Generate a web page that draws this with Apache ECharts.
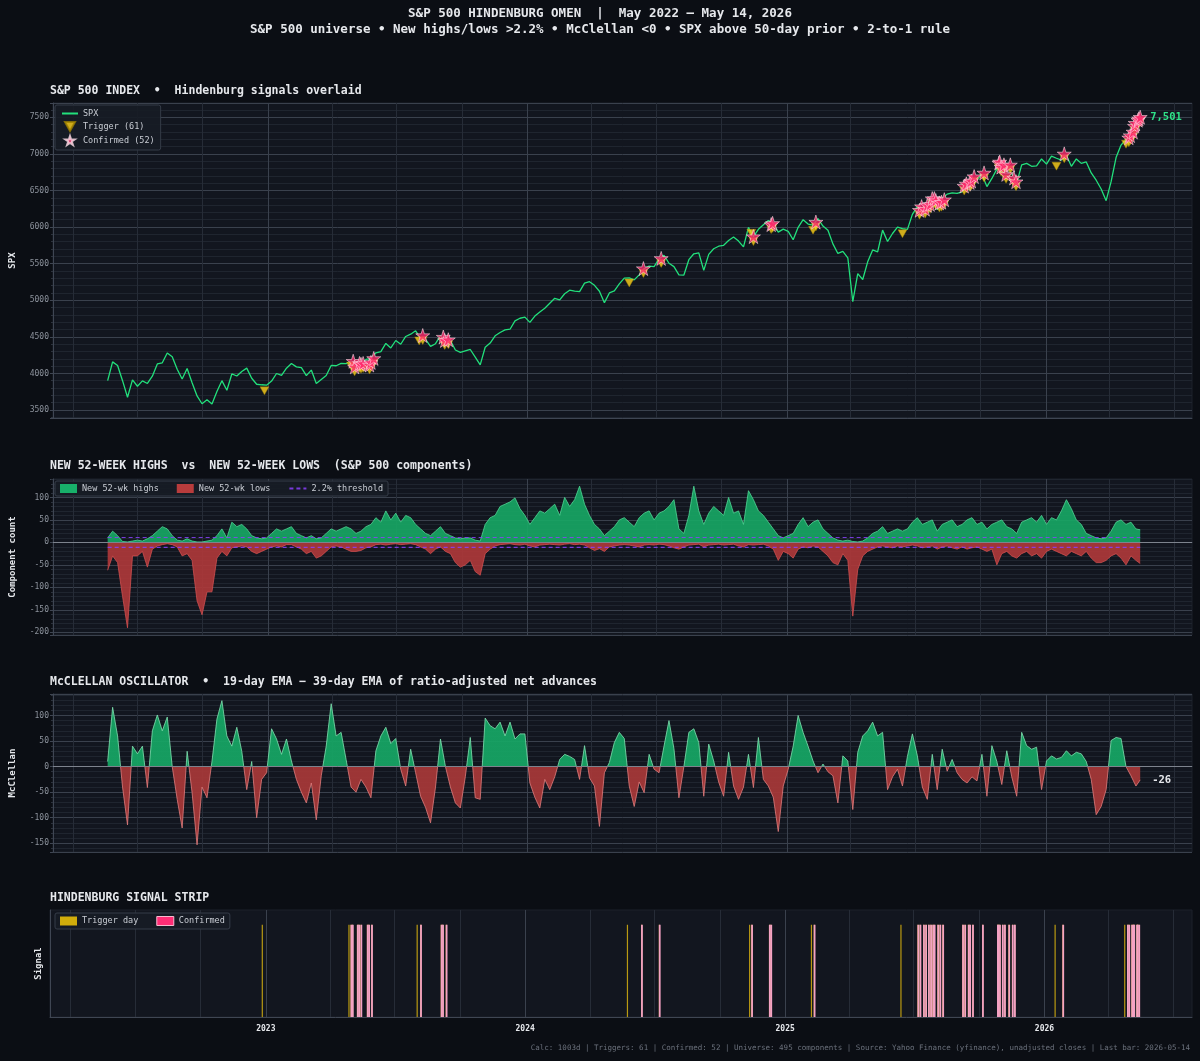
<!DOCTYPE html>
<html>
<head>
<meta charset="utf-8">
<title>S&P 500 Hindenburg Omen</title>
<script src="https://cdn.jsdelivr.net/npm/echarts@6/dist/echarts.min.js"></script>
<style>
  html, body { margin: 0; padding: 0; background: #0b0e14; }
  #chart { width: 1200px; height: 1061px; }
</style>
</head>
<body>
<div id="chart"></div>
<script>
// weekly samples (Fridays) from 2022-05-20, last one is the final bar
const weekStart = '2022-05-20';
const lastBar = '2026-05-14';

const spx = [
  3901, 4158, 4108, 3901, 3675, 3912, 3825, 3899, 3863, 3962,
  4130, 4145, 4280, 4228, 4058, 3924, 4067, 3873, 3693, 3586,
  3640, 3583, 3753, 3901, 3771, 3993, 3965, 4026, 4072, 3934,
  3852, 3845, 3840, 3895, 3999, 3973, 4071, 4136, 4090, 4079,
  3970, 4046, 3862, 3917, 3971, 4109, 4105, 4138, 4133, 4169,
  4136, 4124, 4192, 4205, 4282, 4299, 4410, 4348, 4450, 4399,
  4505, 4536, 4582, 4478, 4464, 4370, 4406, 4516, 4457, 4450,
  4320, 4288, 4308, 4327, 4224, 4117, 4358, 4415, 4514, 4559,
  4595, 4604, 4719, 4754, 4770, 4697, 4784, 4840, 4891, 4959,
  5027, 5006, 5089, 5137, 5124, 5117, 5234, 5254, 5204, 5123,
  4967, 5100, 5128, 5223, 5303, 5305, 5278, 5347, 5432, 5465,
  5460, 5567, 5615, 5505, 5459, 5346, 5344, 5554, 5635, 5648,
  5408, 5626, 5703, 5738, 5751, 5815, 5864, 5808, 5729, 5996,
  5870, 5969, 6032, 6090, 6051, 5930, 5971, 5942, 5827, 5997,
  6101, 6041, 6026, 6115, 6013, 5955, 5770, 5639, 5667, 5580,
  4982, 5363, 5283, 5525, 5687, 5660, 5958, 5803, 5912, 6000,
  5977, 5968, 6173, 6279, 6260, 6297, 6389, 6238, 6389, 6450,
  6467, 6460, 6482, 6584, 6664, 6644, 6716, 6553, 6664, 6792,
  6840, 6729, 6734, 6603, 6849, 6870, 6830, 6835, 6930, 6860,
  6970, 6940, 6915, 6980, 6830, 6930, 6870, 6890, 6740, 6640,
  6520, 6360, 6620, 6950, 7120, 7200, 7280, 7420, 7501
];

const newHighs = [
  10, 25, 15, 2, 1, 3, 5, 3, 8, 15,
  25, 35, 30, 15, 5, 3, 8, 3, 1, 1,
  3, 5, 15, 30, 10, 45, 35, 40, 30, 15,
  10, 8, 10, 20, 30, 25, 30, 35, 20, 15,
  10, 15, 8, 10, 20, 30, 25, 30, 35, 30,
  20, 25, 35, 40, 55, 45, 70, 50, 65, 45,
  60, 55, 40, 30, 20, 15, 25, 35, 20, 15,
  10, 8, 10, 10, 5, 3, 40, 55, 60, 80,
  85, 90, 99, 75, 60, 40, 55, 70, 65, 75,
  85, 60, 100, 80, 95, 125, 85, 60, 40, 30,
  15, 25, 35, 50, 55, 45, 35, 55, 65, 70,
  50, 65, 70, 80, 95, 30, 20, 60, 125, 70,
  40, 65, 80, 70, 60, 100, 65, 70, 40, 115,
  95, 70, 60, 45, 30, 15, 10, 15, 20, 40,
  55, 35, 45, 50, 30, 20, 10, 5, 3, 5,
  2, 1, 3, 10, 20, 25, 35, 20, 25, 30,
  25, 30, 45, 55, 40, 45, 50, 25, 40, 45,
  50, 35, 40, 50, 55, 40, 45, 30, 40, 45,
  50, 35, 30, 20, 45, 50, 55, 45, 60, 40,
  55, 50, 70, 95, 75, 50, 40, 20, 15, 10,
  8, 10, 25, 45, 50, 40, 45, 30, 28
];

const newLows = [
  62, 30, 45, 120, 190, 30, 30, 20, 55, 15,
  8, 5, 3, 5, 10, 30, 25, 40, 130, 161,
  110, 110, 35, 20, 30, 12, 10, 8, 10, 20,
  25, 20, 15, 10, 8, 10, 5, 5, 10, 15,
  25, 20, 35, 30, 20, 10, 8, 10, 15, 20,
  20, 18, 12, 10, 5, 4, 6, 4, 3, 5,
  4, 3, 5, 10, 15, 25, 15, 10, 20, 25,
  45, 55, 50, 40, 65, 73, 25, 15, 8, 5,
  4, 3, 5, 6, 4, 8, 10, 6, 5, 4,
  5, 6, 4, 3, 5, 4, 6, 12, 18, 14,
  20, 10, 8, 6, 5, 6, 8, 10, 6, 5,
  6, 4, 5, 8, 12, 15, 10, 6, 5, 4,
  10, 6, 5, 4, 6, 5, 4, 8, 10, 5,
  6, 5, 4, 8, 15, 40, 20, 25, 35, 15,
  10, 12, 8, 10, 20, 30, 45, 50, 25, 40,
  164, 60, 30, 20, 15, 10, 8, 10, 12, 8,
  10, 8, 6, 8, 12, 10, 8, 15, 10, 8,
  12, 15, 10, 15, 12, 10, 15, 20, 15, 50,
  25, 20, 30, 35, 25, 20, 30, 25, 35, 20,
  15, 20, 25, 30, 20, 25, 30, 20, 35, 45,
  45, 40, 30, 25, 35, 50, 30, 40, 47
];

const mcclellan = [
  10, 116, 60, -40, -114, 40, 25, 40, -41, 70,
  101, 70, 97, 0, -64, -120, 30, -51, -153, -40,
  -61, 10, 93, 129, 60, 40, 77, 30, -45, 10,
  -100, -25, -12, 74, 54, 24, 54, 11, -25, -50,
  -71, -32, -104, -18, 40, 123, 60, 67, 14, -40,
  -50, -25, -40, -61, 31, 60, 77, 45, 55, -5,
  -38, 34, -12, -58, -80, -110, -40, 54, 0, -40,
  -71, -81, -20, 57, -61, -64, 95, 80, 74, 87,
  60, 87, 54, 64, 64, -32, -60, -81, -25, -45,
  -20, 14, 24, 20, 14, -25, 41, -22, -38, -117,
  -12, 8, 47, 67, 55, -38, -78, -30, -51, 24,
  -5, -12, 40, 90, 35, -61, 0, 67, 74, 47,
  -58, 44, 11, -30, -58, 28, -38, -64, -40, 24,
  -41, 57, -25, -38, -60, -127, -38, -5, 40, 100,
  67, 40, 11, -12, 5, -10, -18, -71, 21, 11,
  -84, 28, 60, 70, 87, 60, 67, -45, -20, -5,
  -38, 20, 64, 21, -40, -64, 24, -45, 34, -9,
  14, -12, -25, -32, -20, -28, 24, -58, 41, 10,
  -35, 31, -20, -58, 67, 41, 34, 38, -45, 11,
  21, 15, 18, 31, 21, 28, 25, 10, -25, -94,
  -78, -45, 51, 57, 55, 0, -18, -38, -26
];

// trigger days that were not confirmed: [date, SPX close]
const triggerOnly = [
  ['2022-12-27', 3830], ['2023-04-28', 4169], ['2023-08-02', 4513],
  ['2024-05-24', 5305], ['2024-11-12', 5984], ['2025-02-07', 6026],
  ['2025-06-13', 5977], ['2026-01-16', 6900], ['2026-04-24', 7200]
];

// confirmed signal days: [date, SPX close]
const confirmed = [
  ['2023-05-01', 4167], ['2023-05-03', 4090], ['2023-05-10', 4137], ['2023-05-12', 4124],
  ['2023-05-15', 4136], ['2023-05-24', 4115], ['2023-05-26', 4151], ['2023-05-30', 4205],
  ['2023-08-07', 4518],
  ['2023-09-05', 4497], ['2023-09-07', 4451], ['2023-09-12', 4461],
  ['2024-06-13', 5433], ['2024-07-08', 5572],
  ['2024-11-15', 5870], ['2024-12-10', 6034], ['2024-12-12', 6051],
  ['2025-02-11', 6068],
  ['2025-07-07', 6230], ['2025-07-10', 6280], ['2025-07-15', 6245], ['2025-07-18', 6297],
  ['2025-07-22', 6310], ['2025-07-25', 6389], ['2025-07-28', 6389], ['2025-07-30', 6362],
  ['2025-08-04', 6330], ['2025-08-07', 6340], ['2025-08-11', 6374],
  ['2025-09-08', 6560], ['2025-09-11', 6590], ['2025-09-16', 6610], ['2025-09-18', 6630],
  ['2025-09-22', 6690],
  ['2025-10-06', 6740],
  ['2025-10-27', 6875], ['2025-10-28', 6890], ['2025-10-30', 6820], ['2025-11-03', 6850],
  ['2025-11-06', 6720], ['2025-11-12', 6850], ['2025-11-17', 6670], ['2025-11-20', 6620],
  ['2026-01-27', 7000],
  ['2026-04-28', 7220], ['2026-04-30', 7250], ['2026-05-04', 7300], ['2026-05-06', 7380],
  ['2026-05-07', 7420], ['2026-05-11', 7460], ['2026-05-12', 7480], ['2026-05-14', 7501]
];

const universe = 495;
const thresholdPct = 2.2;
const yearTicks = ['2023-01-01', '2024-01-01', '2025-01-01', '2026-01-01'];
const quarterTicks = [
  '2022-04-01', '2022-07-01', '2022-10-01', '2023-04-01', '2023-07-01', '2023-10-01',
  '2024-04-01', '2024-07-01', '2024-10-01', '2025-04-01', '2025-07-01', '2025-10-01',
  '2026-04-01', '2026-07-01'
];

const FONT = "'DejaVu Sans Mono', monospace";
const TXT = '#e6e8ec';
const TICK = '#8d939d';
const AXIS = '#3f4653';
const MAJOR = '#3a414d';
const MINOR = '#1f252f';
const VMINOR = '#262c37';

const t = s => Date.parse(s);
const DAY = 864e5;
const dates = spx.map((_, i) => t(weekStart) + i * 7 * DAY);
dates[dates.length - 1] = t(lastBar);
const pair = arr => arr.map((v, i) => [dates[i], v]);
const thr = universe * thresholdPct / 100;
const xMin = t('2022-03-04');
const xMax = t('2026-07-26');

// green above zero, red below: split the gradient where 0 falls inside the data range
const mcMax = Math.max(...mcclellan);
const mcMin = Math.min(...mcclellan);
const zeroAt = mcMax / (mcMax - mcMin);
const signGradient = (up, down) => new echarts.graphic.LinearGradient(0, 0, 0, 1, [
  { offset: 0, color: up }, { offset: zeroAt, color: up },
  { offset: zeroAt, color: down }, { offset: 1, color: down }
]);

const triangle = 'path://M0,0 L10,0 L5,9 Z';
const star = 'path://M50,0 L61.2,34.5 L97.6,34.5 L68.2,55.9 L79.4,90.5 L50,69.1 L20.6,90.5 L31.8,55.9 L2.4,34.5 L38.8,34.5 Z';

function vGrid(withLabels) {
  return {
    silent: true, symbol: 'none', z: 1, animation: false,
    label: { show: false },
    emphasis: { disabled: true },
    data: [
      ...quarterTicks.map(d => ({ xAxis: t(d), lineStyle: { color: VMINOR, width: 1, type: 'solid' } })),
      ...yearTicks.map(d => ({
        xAxis: t(d),
        lineStyle: { color: MAJOR, width: 1, type: 'solid' },
        label: withLabels
          ? { show: true, position: 'start', distance: 8, formatter: d.slice(0, 4),
              color: TXT, fontSize: 8, fontWeight: 'bold', fontFamily: FONT }
          : { show: false }
      }))
    ]
  };
}

function zeroLine() {
  return {
    silent: true, symbol: 'none', z: 5, animation: false,
    label: { show: false }, emphasis: { disabled: true },
    data: [{ yAxis: 0, lineStyle: { color: '#7d838d', width: 1, type: 'solid' } }]
  };
}

function xAx(i) {
  return {
    type: 'time', gridIndex: i, min: xMin, max: xMax,
    axisLine: { show: true, lineStyle: { color: AXIS } },
    axisTick: { show: false }, axisLabel: { show: false }, splitLine: { show: false }
  };
}

function yAx(i, min, max, step, name, nameGap) {
  return {
    type: 'value', gridIndex: i, min, max, minInterval: step, maxInterval: step, splitNumber: 8,
    name, nameLocation: 'middle', nameGap,
    nameTextStyle: { color: TXT, fontSize: 9, fontWeight: 'bold', fontFamily: FONT },
    axisLine: { show: true, lineStyle: { color: AXIS } },
    axisTick: { show: true, length: 3, lineStyle: { color: AXIS } },
    minorTick: { show: true, splitNumber: 5, length: 2, lineStyle: { color: '#2c323d' } },
    axisLabel: { color: TICK, fontSize: 8, fontFamily: FONT, margin: 4,
                 showMinLabel: false, showMaxLabel: false, formatter: v => String(v) },
    splitLine: { show: true, lineStyle: { color: MAJOR, width: 1 } },
    minorSplitLine: { show: true, lineStyle: { color: MINOR, width: 1 } }
  };
}

const legendBase = {
  selectedMode: false,
  backgroundColor: 'rgba(23,28,37,0.92)', borderColor: '#353c48', borderWidth: 1, borderRadius: 2,
  textStyle: { color: '#c9cdd4', fontSize: 8.5, fontFamily: FONT }
};

const chart = echarts.init(document.getElementById('chart'), null, { renderer: 'canvas' });

const allTriggers = triggerOnly.concat(confirmed);
const titleStyle = { color: TXT, fontSize: 11.5, fontWeight: 'bold', fontFamily: FONT };

chart.setOption({
  backgroundColor: '#0b0e14',
  animation: false,
  textStyle: { fontFamily: FONT },
  title: [
    { text: 'S&P 500 HINDENBURG OMEN  |  May 2022 – May 14, 2026', left: 'center', top: 7, padding: 0,
      textStyle: { color: TXT, fontSize: 12.5, fontWeight: 'bold', fontFamily: FONT } },
    { text: 'S&P 500 universe • New highs/lows >2.2% • McClellan <0 • SPX above 50-day prior • 2-to-1 rule',
      left: 'center', top: 23, padding: 0,
      textStyle: { color: TXT, fontSize: 12.5, fontWeight: 'bold', fontFamily: FONT } },
    { text: 'S&P 500 INDEX  •  Hindenburg signals overlaid', left: 50, top: 85, padding: 0, textStyle: titleStyle },
    { text: 'NEW 52-WEEK HIGHS  vs  NEW 52-WEEK LOWS  (S&P 500 components)', left: 50, top: 460, padding: 0, textStyle: titleStyle },
    { text: 'McCLELLAN OSCILLATOR  •  19-day EMA − 39-day EMA of ratio-adjusted net advances', left: 50, top: 676, padding: 0, textStyle: titleStyle },
    { text: 'HINDENBURG SIGNAL STRIP', left: 50, top: 892, padding: 0, textStyle: titleStyle },
    { text: 'Calc: 1003d | Triggers: 61 | Confirmed: 52 | Universe: 495 components | Source: Yahoo Finance (yfinance), unadjusted closes | Last bar: 2026-05-14',
      right: 10, top: 1044, padding: 0,
      textStyle: { color: '#6b717c', fontSize: 7.5, fontWeight: 'normal', fontFamily: FONT } }
  ],
  grid: [
    { left: 50, right: 8, top: 103, height: 315, show: true, backgroundColor: '#12161f', borderColor: '#1c212b' },
    { left: 50, right: 8, top: 479, height: 156, show: true, backgroundColor: '#12161f', borderColor: '#1c212b' },
    { left: 50, right: 8, top: 694, height: 158, show: true, backgroundColor: '#12161f', borderColor: '#1c212b' },
    { left: 50, right: 8, top: 910, height: 107, show: true, backgroundColor: '#12161f', borderColor: '#1c212b' }
  ],
  xAxis: [xAx(0), xAx(1), xAx(2), xAx(3)],
  yAxis: [
    yAx(0, 3391, 7695, 500, 'SPX', 36),
    yAx(1, -206, 141, 50, 'Component count', 36),
    yAx(2, -167, 142, 50, 'McClellan', 36),
    { type: 'value', gridIndex: 3, min: 0, max: 1.16, name: 'Signal', nameLocation: 'middle', nameGap: 7,
      nameTextStyle: { color: TXT, fontSize: 9, fontWeight: 'bold', fontFamily: FONT },
      axisLine: { show: true, lineStyle: { color: AXIS } }, axisTick: { show: false },
      axisLabel: { show: false }, splitLine: { show: false } }
  ],
  legend: [
    Object.assign({}, legendBase, {
      left: 55, top: 105, orient: 'vertical', itemGap: 3, itemWidth: 16, itemHeight: 9, padding: [4, 6],
      data: [
        { name: 'SPX', itemStyle: { opacity: 0 } },
        { name: 'Trigger (61)' },
        { name: 'Confirmed (52)' }
      ]
    }),
    Object.assign({}, legendBase, {
      left: 55, top: 481, orient: 'horizontal', itemGap: 18, itemWidth: 17, itemHeight: 9, padding: [3, 5],
      data: [
        { name: 'New 52-wk highs', icon: 'rect' },
        { name: 'New 52-wk lows', icon: 'rect' },
        { name: '2.2% threshold', itemStyle: { opacity: 0 } }
      ]
    }),
    Object.assign({}, legendBase, {
      left: 55, top: 913, orient: 'horizontal', itemGap: 18, itemWidth: 17, itemHeight: 9, padding: [3, 5],
      data: [
        { name: 'Trigger day', icon: 'rect', itemStyle: { color: '#d1ad0b' } },
        { name: 'Confirmed', icon: 'rect', itemStyle: { color: '#ff2d75', borderColor: '#f7b9cf', borderWidth: 1 } }
      ]
    })
  ],
  series: [
    { // 0
      name: 'SPX', type: 'line', xAxisIndex: 0, yAxisIndex: 0, data: pair(spx),
      color: '#22e07c', symbol: 'none', showSymbol: false, z: 2,
      lineStyle: { color: '#22e07c', width: 1.3 },
      endLabel: { show: true, distance: 10, color: '#2fe389', fontSize: 10.5, fontWeight: 'bold', fontFamily: FONT,
                  formatter: p => Number(p.value[1]).toLocaleString('en-US') },
      markLine: vGrid(false)
    },
    { // 1
      name: 'Trigger (61)', type: 'scatter', xAxisIndex: 0, yAxisIndex: 0,
      data: allTriggers.map(d => [t(d[0]), d[1]]),
      symbol: triangle, symbolSize: [9, 8], symbolOffset: [0, 5], z: 3,
      itemStyle: { color: '#ffd21c', borderColor: '#9c7f00', borderWidth: 0.5 }
    },
    { // 2
      name: 'Confirmed (52)', type: 'scatter', xAxisIndex: 0, yAxisIndex: 0,
      data: confirmed.map(d => [t(d[0]), d[1]]),
      symbol: star, symbolSize: 14, z: 4,
      itemStyle: { color: '#ff2a6d', borderColor: '#ffe3ec', borderWidth: 0.7 }
    },
    { // 3
      name: 'New 52-wk highs', type: 'line', xAxisIndex: 1, yAxisIndex: 1, data: pair(newHighs),
      color: '#18b06a', symbol: 'none', showSymbol: false, z: 2,
      lineStyle: { color: '#4fd996', width: 0.8 },
      areaStyle: { color: '#17a865', opacity: 0.9 },
      markLine: vGrid(false)
    },
    { // 4
      name: 'New 52-wk lows', type: 'line', xAxisIndex: 1, yAxisIndex: 1, data: pair(newLows.map(v => -v)),
      color: '#b83c3c', symbol: 'none', showSymbol: false, z: 2,
      lineStyle: { color: '#cf4f4f', width: 0.8 },
      areaStyle: { color: '#b0393a', opacity: 0.9 },
      markLine: zeroLine()
    },
    { // 5
      name: '2.2% threshold', type: 'line', xAxisIndex: 1, yAxisIndex: 1,
      data: [[dates[0], thr], [dates[dates.length - 1], thr]],
      color: '#8a3ffc', symbol: 'none', showSymbol: false, z: 3,
      lineStyle: { color: '#8a3ffc', width: 1.2, type: [4, 3], opacity: 0.85 }
    },
    { // 6
      name: '2.2% threshold', type: 'line', xAxisIndex: 1, yAxisIndex: 1,
      data: [[dates[0], -thr], [dates[dates.length - 1], -thr]],
      color: '#8a3ffc', symbol: 'none', showSymbol: false, z: 3,
      lineStyle: { color: '#8a3ffc', width: 1.2, type: [4, 3], opacity: 0.85 }
    },
    { // 7
      name: 'McClellan fill', type: 'line', xAxisIndex: 2, yAxisIndex: 2, data: pair(mcclellan),
      symbol: 'none', showSymbol: false, z: 2,
      lineStyle: { width: 0 },
      areaStyle: { color: signGradient('#16a765', '#a83838'), opacity: 0.92 },
      markLine: vGrid(false)
    },
    { // 8
      name: 'McClellan', type: 'line', xAxisIndex: 2, yAxisIndex: 2, data: pair(mcclellan),
      symbol: 'none', showSymbol: false, z: 3,
      lineStyle: { width: 0.8, color: signGradient('#80e2b0', '#e07c7c') },
      endLabel: { show: true, distance: 12, color: TXT, fontSize: 10.5, fontWeight: 'bold', fontFamily: FONT,
                  formatter: p => String(p.value[1]) },
      markLine: zeroLine()
    },
    { // 9
      name: 'Trigger day', type: 'bar', xAxisIndex: 3, yAxisIndex: 3,
      data: allTriggers.map(d => [t(d[0]), 1]),
      barWidth: 1.2, barGap: '-100%', z: 2,
      itemStyle: { color: '#b99a12' },
      markLine: vGrid(true)
    },
    { // 10
      name: 'Confirmed', type: 'bar', xAxisIndex: 3, yAxisIndex: 3,
      data: confirmed.map(d => [t(d[0]), 1]),
      barWidth: 1.8, barGap: '-100%', z: 3,
      itemStyle: { color: '#f4a2c4' }
    }
  ]
});
</script>
</body>
</html>
